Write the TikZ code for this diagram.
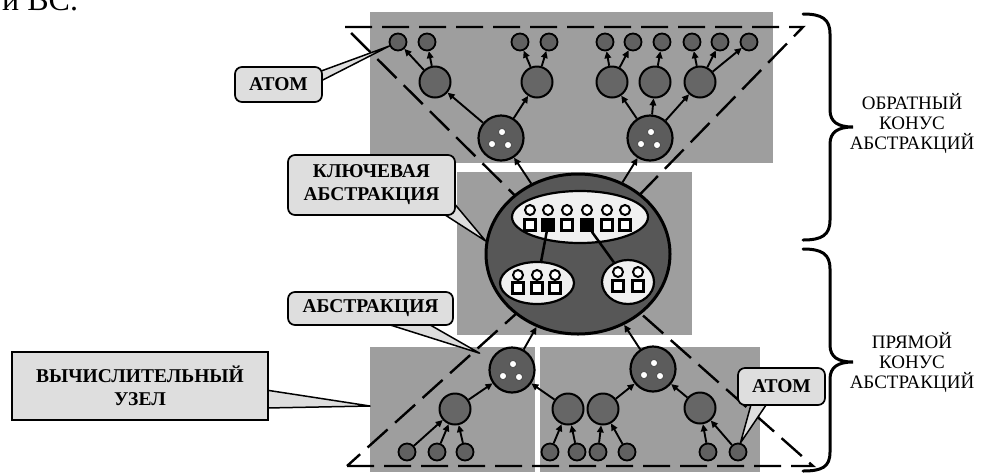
\documentclass[tikz,border=0pt]{standalone}
\usepackage{fontspec}
\setmainfont{Liberation Serif}
\usetikzlibrary{arrows.meta,shapes.geometric,calc}
\pgfdeclarelayer{back}
\pgfdeclarelayer{wedgel}
\pgfsetlayers{back,wedgel,main}
\tikzset{
 panel/.style={fill=black!38},
 cone/.style={line width=2.4pt, dash pattern=on 27pt off 10pt},
 atomn/.style={circle,draw,line width=1.8pt,fill=black!62,minimum size=17pt,inner sep=0pt},
 midn/.style={circle,draw,line width=2pt,fill=black!60,minimum size=31pt,inner sep=0pt},
 absn/.style={circle,draw,line width=2.2pt,fill=black!64,minimum size=45pt,inner sep=0pt},
 keyn/.style={ellipse,draw,line width=3pt,fill=black!66,minimum width=184pt,minimum height=160pt,inner sep=0pt},
 inel/.style={ellipse,draw,line width=2.2pt,fill=black!6,inner sep=0pt},
 link/.style={line width=1.9pt,-{Triangle[length=7pt,width=6.5pt]}},
 lbl/.style={draw,line width=1.7pt,fill=black!13,rounded corners=7pt,font=\fontsize{19.5}{23}\selectfont\bfseries,align=center,inner sep=0pt},
 callout/.style={draw,line width=1.5pt,fill=black!13,line join=round},
 side/.style={font=\fontsize{19}{20}\selectfont,align=center},
 bracel/.style={line width=3pt,line cap=round},
 headn/.style={circle,draw,line width=2pt,fill=white,minimum size=10pt,inner sep=0pt},
 bodyn/.style={rectangle,draw,line width=2.5pt,fill=white,minimum size=11pt,inner sep=0pt},
 holed/.style={fill=white,draw=black!70,line width=0.8pt},
}
\begin{document}
\begin{tikzpicture}[x=1pt,y=-1pt]
\useasboundingbox (0,0) rectangle (981,475);
\clip (0,0) rectangle (981,475);

% fragment of page text (cut by the top edge, as in the reference)
\node[anchor=base west,inner sep=0pt,font=\fontsize{32}{34}\selectfont] (frag) at (2,10) {и ВС.};

% cone corners
\coordinate (c1) at (345,27);
\coordinate (c2) at (803,27);
\coordinate (apex) at (578,258);
\coordinate (c3) at (347,466);
\coordinate (c4) at (813,466);
\coordinate (vtip) at (370,406);

\begin{pgfonlayer}{back}
\fill[panel] (370,12) rectangle (773,163);
\fill[panel] (457,172) rectangle (692,335);
\fill[panel] (370,347) rectangle (535,472);
\fill[panel] (540,347) rectangle (760,472);
\draw[cone] (c1) -- (c2) -- (apex) -- cycle;
\draw[cone] (c3) -- (c4) -- (apex) -- cycle;
\end{pgfonlayer}

% top atoms
\foreach \x [count=\i] in {398,427,520,549,605,633,662,692,720,749}
  \node[atomn] (t\i) at (\x,42) {};
% top middle nodes
\foreach \x [count=\i] in {435,537,612,655,700}
  \node[midn] (m\i) at (\x,82) {};
% abstractions
\node[absn] (A1) at (501,138) {};
\node[absn] (A2) at (650,138) {};
\node[absn] (B1) at (512,370) {};
\node[absn] (B2) at (653,369) {};
\foreach \n in {A1,A2,B1,B2}{
  \filldraw[holed] ($(\n)+(1,-6)$) circle (3.6pt);
  \filldraw[holed] ($(\n)+(-9,6)$) circle (3.6pt);
  \filldraw[holed] ($(\n)+(7,7)$) circle (3.6pt);
}
% bottom middle nodes
\node[midn] (n1) at (455,409) {};
\node[midn] (n2) at (568,409) {};
\node[midn] (n3) at (603,409) {};
\node[midn] (n4) at (700,408) {};
% bottom atoms
\foreach \x [count=\i] in {407,437,465,550,577,598,627,708,738}
  \node[atomn] (b\i) at (\x,452) {};

% key abstraction
\node[keyn] (K) at (578,254) {};
\node[inel,minimum width=136pt,minimum height=52pt] (E1) at (580,217) {};
\node[inel,minimum width=74pt,minimum height=42pt] (E2) at (537,283) {};
\node[inel,minimum width=52pt,minimum height=44pt] (E3) at (628,282) {};
\foreach \x/\c [count=\i] in {530/white,548/black,567/white,587/black,607/white,625/white}{
  \node[headn] (h\i) at (\x,210) {};
  \node[bodyn,fill=\c] (s\i) at (\x,225) {};
}
\draw[line width=2.5pt] (s2) -- (E2);
\draw[line width=2.5pt] (s4) -- (E3);
\foreach \x [count=\i] in {518,537,555}{
  \node[headn] (hl\i) at (\x,275) {};
  \node[bodyn] (sl\i) at (\x,288) {};
}
\foreach \x [count=\i] in {618,638}{
  \node[headn] (hr\i) at (\x,272) {};
  \node[bodyn] (sr\i) at (\x,286) {};
}

% connectors
\foreach \a/\b in {A1/m1,A1/m2,A2/m3,A2/m4,A2/m5,m1/t1,m1/t2,m2/t3,m2/t4,m3/t5,m3/t6,m4/t7,m5/t8,m5/t9,m5/t10,K/A1,K/A2,B1/K,B2/K,n1/B1,n2/B1,n3/B2,n4/B2,b1/n1,b2/n1,b3/n1,b4/n2,b5/n2,b6/n3,b7/n3,b8/n4,b9/n4}
  \draw[link] (\a) -- (\b);

% labels
\node[lbl,minimum width=87pt,minimum height=35pt] (LA1) at (278.5,84.5) {АТОМ};
\node[lbl,minimum width=167pt,minimum height=60pt] (LK) at (371.5,185) {КЛЮЧЕВАЯ\\АБСТРАКЦИЯ};
\node[lbl,minimum width=165pt,minimum height=33pt] (LB) at (370.5,308.5) {АБСТРАКЦИЯ};
\node[lbl,rounded corners=0pt,minimum width=256pt,minimum height=68pt] (LV) at (140,386) {ВЫЧИСЛИТЕЛЬНЫЙ\\УЗЕЛ};
\node[lbl,minimum width=87pt,minimum height=37pt] (LA2) at (781.5,386.5) {АТОМ};

\begin{pgfonlayer}{wedgel}
\filldraw[callout] ($(LA1.east)+(-3,-13)$) -- (t1.205) -- ($(LA1.east)+(-3,-3)$) -- cycle;
\filldraw[callout] ($(LK.south east)+(-3,-14)$) -- (K.172) -- ($(LK.south east)+(-14,-3)$) -- cycle;
\filldraw[callout] ($(LB.south)+(13,-3)$) -- ($(B1.150)+(-12,-5)$) -- ($(LB.south)+(56,-3)$) -- cycle;
\filldraw[callout] ($(LV.east)+(-3,4)$) -- (vtip) -- ($(LV.east)+(-3,22)$) -- cycle;
\filldraw[callout] ($(LA2.south)+(-30,-3)$) -- (b9.75) -- ($(LA2.south)+(-14,-3)$) -- cycle;
\end{pgfonlayer}

% braces
\draw[bracel] (803,14) .. controls (822,14) and (830,19) .. (830,34) -- (830,110)
  .. controls (830,122) and (838,127) .. (853,127)
  .. controls (838,127) and (830,132) .. (830,144) -- (830,220)
  .. controls (830,235) and (822,240) .. (803,240);
\draw[bracel] (803,249) .. controls (822,249) and (830,254) .. (830,269) -- (830,345)
  .. controls (830,357) and (838,362) .. (853,362)
  .. controls (838,362) and (830,367) .. (830,379) -- (830,452)
  .. controls (830,467) and (822,471) .. (803,471);
\node[side] (T1) at (912,123) {ОБРАТНЫЙ\\КОНУС\\АБСТРАКЦИЙ};
\node[side] (T2) at (912,362) {ПРЯМОЙ\\КОНУС\\АБСТРАКЦИЙ};
\end{tikzpicture}
\end{document}
